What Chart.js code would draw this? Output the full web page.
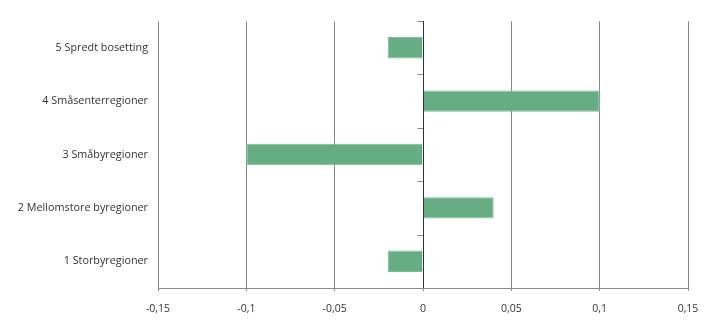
<!DOCTYPE html>
<html>
<head>
<meta charset="utf-8">
<script src="https://cdn.jsdelivr.net/npm/chart.js@4"></script>
<style>
html,body{margin:0;padding:0;background:#fff;}
#wrap{width:719px;height:332px;position:relative;}
</style>
</head>
<body>
<div id="wrap"><canvas id="c" width="719" height="332"></canvas></div>
<script>
const categories = ["5 Spredt bosetting", "4 Småsenterregioner", "3 Småbyregioner", "2 Mellomstore byregioner", "1 Storbyregioner"];
const values = [-0.02, 0.1, -0.1, 0.04, -0.02];
const xTicks = [-0.15, -0.1, -0.05, 0, 0.05, 0.1, 0.15];
const xTickLabels = ["-0,15", "-0,1", "-0,05", "0", "0,05", "0,1", "0,15"];

const zeroTicks = {
  id: 'zeroTicks',
  afterDatasetsDraw(chart) {
    const {ctx, scales: {x, y}} = chart;
    const x0 = Math.round(x.getPixelForValue(0)) + 0.5;
    ctx.save();
    ctx.strokeStyle = '#8a8a8a';
    ctx.lineWidth = 1;
    for (let i = 0; i <= categories.length; i++) {
      const py = Math.round(y.getPixelForValue(i - 0.5)) + 0.5;
      ctx.beginPath();
      ctx.moveTo(x0 - 6, py);
      ctx.lineTo(x0, py);
      ctx.stroke();
    }
    ctx.strokeStyle = '#333333';
    ctx.beginPath();
    ctx.moveTo(x0, y.top);
    ctx.lineTo(x0, y.bottom);
    ctx.stroke();
    ctx.restore();
  }
};

new Chart(document.getElementById('c'), {
  type: 'bar',
  data: {
    labels: categories,
    datasets: [{
      data: values,
      backgroundColor: '#66ad84',
      borderColor: '#7fbb98',
      borderWidth: 1,
      categoryPercentage: 1,
      barPercentage: 0.4
    }]
  },
  options: {
    indexAxis: 'y',
    responsive: false,
    animation: false,
    layout: {padding: {top: 21, right: 31, left: 0, bottom: 0}},
    plugins: {legend: {display: false}, tooltip: {enabled: false}},
    scales: {
      x: {
        type: 'linear',
        min: -0.15,
        max: 0.15,
        afterBuildTicks(scale) { scale.ticks = xTicks.map(v => ({value: v})); },
        afterFit(scale) { scale.height = 44; },
        ticks: {
          callback: (v) => { const i = xTicks.findIndex(t => Math.abs(t - v) < 1e-9); return i >= 0 ? xTickLabels[i] : ''; },
          color: '#333333',
          font: {family: 'Open Sans', size: 10.5},
          padding: 12,
          maxRotation: 0
        },
        grid: {
          color: '#8a8a8a',
          lineWidth: 1,
          tickLength: 3,
          drawTicks: true
        },
        border: {display: true, color: '#8a8a8a', width: 1}
      },
      y: {
        afterFit(scale) { scale.width = 158; },
        ticks: {
          color: '#333333',
          font: {family: 'Open Sans', size: 10.8},
          padding: 10
        },
        grid: {display: false, drawTicks: false},
        border: {display: true, color: '#8a8a8a', width: 1}
      }
    }
  },
  plugins: [zeroTicks]
});
</script>
</body>
</html>
